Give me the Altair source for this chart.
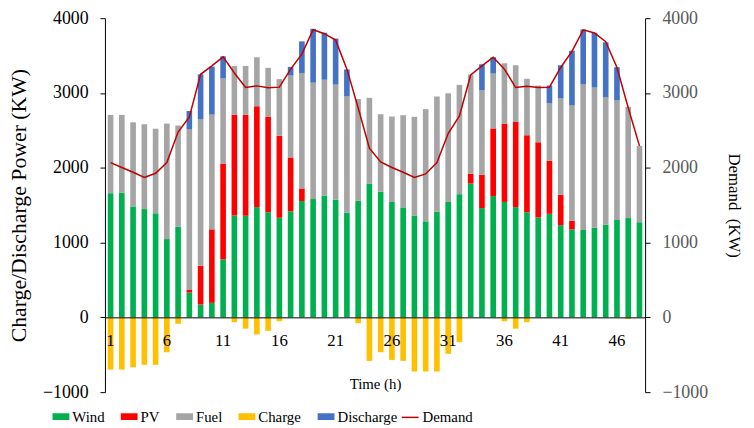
import altair as alt
import pandas as pd

hours = list(range(1, 49))

wind = [1660, 1668, 1483, 1448, 1392, 1047, 1211, 332, 172, 194, 776, 1362,
        1358, 1474, 1405, 1332, 1418, 1556, 1582, 1625, 1573, 1401, 1560, 1784,
        1681, 1543, 1470, 1362, 1284, 1414, 1543, 1647, 1789, 1461, 1621, 1543,
        1474, 1405, 1336, 1384, 1233, 1177, 1168, 1198, 1237, 1302, 1328, 1272]

pv = [0, 0, 0, 0, 0, 0, 0, 34, 518, 983, 1280, 1349,
      1349, 1349, 1280, 1095, 720, 168, 0, 0, 0, 0, 0, 0,
      0, 0, 0, 0, 0, 0, 0, 0, 130, 444, 905, 1048,
      1138, 1030, 1005, 711, 405, 116, 0, 0, 0, 0, 0, 0]

fuel = [1047, 1039, 1125, 1134, 1130, 1544, 1354, 2151, 1961, 1534, 1138, 651,
        655, 655, 651, 758, 1095, 1543, 1556, 1552, 1539, 1552, 1358, 1151,
        1035, 1142, 1233, 1319, 1500, 1539, 1453, 1461, 1326, 1134, 733, 806,
        759, 755, 758, 771, 1289, 1539, 1948, 1875, 1703, 1599, 1487, 1021]

discharge = [0, 0, 0, 0, 0, 0, 0, 242, 599, 642, 297, 0,
             0, 0, 0, 0, 116, 423, 720, 629, 616, 362, 0, 0,
             0, 0, 0, 0, 0, 0, 0, 0, 0, 345, 219, 0,
             0, 0, 0, 233, 444, 733, 733, 733, 737, 444, 0, 0]

charge = [-698, -698, -668, -634, -634, -466, -86, 0, 0, 0, 0, -65,
          -151, -228, -181, -52, 0, 0, 0, 0, 0, 0, -78, -582,
          -466, -569, -582, -724, -724, -724, -487, -332, 0, 0, 0, -52,
          -151, -65, 0, 0, 0, 0, 0, 0, 0, 0, -22, 0]

demand = [2069, 2004, 1940, 1871, 1927, 2069, 2478, 2681, 3250, 3362, 3483, 3267,
          3073, 3095, 3069, 3078, 3319, 3520, 3845, 3793, 3707, 3319, 2802, 2263,
          2078, 2004, 1940, 1871, 1918, 2069, 2457, 2694, 3241, 3362, 3478, 3319,
          3073, 3091, 3073, 3078, 3341, 3556, 3845, 3802, 3685, 3341, 2802, 2293]

series_names = ["Wind", "PV", "Fuel", "Charge", "Discharge"]
series_colors = ["#00B050", "#FF0000", "#A5A5A5", "#FFC000", "#4472C4"]
stack_order = {"Wind": 0, "PV": 1, "Fuel": 2, "Discharge": 3, "Charge": 4}
series_values = {"Wind": wind, "PV": pv, "Fuel": fuel, "Charge": charge, "Discharge": discharge}

rows = []
for name in series_names:
    for h, v in zip(hours, series_values[name]):
        rows.append({"Hour": h, "Series": name, "Value": v, "ord": stack_order[name]})
df = pd.DataFrame(rows)
demand_df = pd.DataFrame({"Hour": hours, "Demand": demand, "Series": ["Demand"] * 48})

FONT = "Liberation Serif"
W, H = 546, 378
RECT = "M-1,-0.4H1V0.4H-1Z"
y_ticks = [-1000, 0, 1000, 2000, 3000, 4000]

bars = alt.Chart(df).mark_bar().encode(
    x=alt.X("Hour:O",
            scale=alt.Scale(paddingInner=0.5, paddingOuter=0.25),
            axis=alt.Axis(offset=-(H * 0.2), zindex=1,
                          labelExpr="(datum.value - 1) % 5 == 0 ? datum.label : ''",
                          ticks=False, labelAngle=0, domainColor="black",
                          labelFontSize=17, labelFont=FONT, labelColor="black",
                          labelPadding=15, title="Time (h)", titleFontSize=15,
                          titleFont=FONT, titleFontWeight="normal", titleColor="black",
                          titlePadding=29)),
    y=alt.Y("Value:Q", stack="zero",
            scale=alt.Scale(domain=[-1000, 4000], nice=False),
            axis=alt.Axis(values=y_ticks, format="d", grid=False,
                          domainColor="black", tickColor="black", tickSize=5,
                          labelFontSize=18, labelFont=FONT, labelColor="black",
                          labelPadding=12, title="Charge/Discharge Power (KW)",
                          titleFontSize=22, titleFont=FONT, titleFontWeight="normal",
                          titleColor="black", titlePadding=12)),
    fill=alt.Fill("Series:N",
                  scale=alt.Scale(domain=series_names, range=series_colors),
                  legend=alt.Legend(orient="none", legendX=-53, legendY=394,
                                    direction="horizontal", title=None,
                                    symbolType=RECT, symbolSize=289,
                                    symbolStrokeWidth=0, labelFont=FONT,
                                    labelFontSize=15, labelColor="black",
                                    labelOffset=3, columnPadding=16, padding=0)),
    order=alt.Order("ord:Q"),
)

line = alt.Chart(demand_df).mark_line(strokeWidth=1.5).encode(
    x=alt.X("Hour:O"),
    y=alt.Y("Demand:Q",
            scale=alt.Scale(domain=[-1000, 4000], nice=False),
            axis=alt.Axis(orient="right", values=y_ticks, format="d",
                          grid=False, domainColor="black", tickColor="black",
                          tickSize=5, labelFontSize=18, labelFont=FONT,
                          labelColor="#595959", labelPadding=12,
                          title="Demand\u00a0 (KW)", titleFontSize=17, titleFont=FONT,
                          titleFontWeight="normal", titleColor="black",
                          titlePadding=17)),
    stroke=alt.Stroke("Series:N",
                      scale=alt.Scale(domain=["Demand"], range=["#C00000"]),
                      legend=alt.Legend(orient="none", legendX=299, legendY=394,
                                        title=None, symbolType="stroke",
                                        symbolSize=289, symbolStrokeWidth=1.5,
                                        labelFont=FONT, labelFontSize=15,
                                        labelColor="black", labelOffset=3,
                                        padding=0)),
)

chart = alt.layer(bars, line).resolve_scale(
    y="independent", fill="independent", stroke="independent"
).properties(
    width=W, height=H,
    padding={"left": 98, "top": 8, "right": 102, "bottom": 40},
    autosize=alt.AutoSizeParams(type="none"),
).configure(font=FONT).configure_view(stroke=None).configure_axis(
    grid=False, labelFont=FONT, titleFont=FONT
).configure_legend(labelFont=FONT)

chart.save("out.html", embed_options={"renderer": "svg", "actions": False})
